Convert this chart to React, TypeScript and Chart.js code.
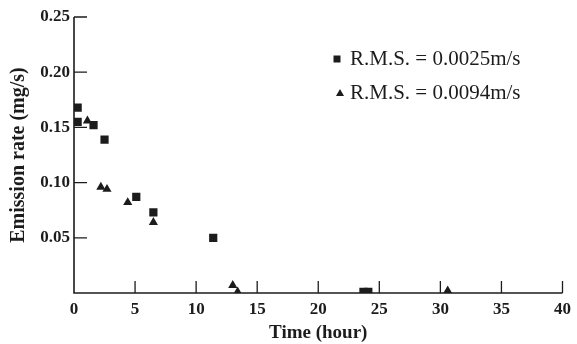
import React, { useEffect, useRef } from "react";
import { Chart, registerables } from "chart.js";

Chart.register(...registerables);

const squareX = [0.3, 0.3, 1.6, 2.5, 5.1, 6.5, 11.4, 23.7, 24.1];
const squareY = [0.168, 0.155, 0.152, 0.139, 0.087, 0.073, 0.05, 0.001, 0.001];
const triangleX = [1.1, 2.2, 2.7, 4.4, 6.5, 13.0, 13.4, 30.6];
const triangleY = [0.156, 0.096, 0.094, 0.082, 0.064, 0.007, 0.001, 0.002];
const seriesLabels = ["R.M.S. = 0.0025m/s", "R.M.S. = 0.0094m/s"];
const xTicks = [0, 5, 10, 15, 20, 25, 30, 35, 40];
const yTicks = [0, 0.05, 0.1, 0.15, 0.2, 0.25];
const yTickLabels = ["", "0.05", "0.10", "0.15", "0.20", "0.25"];
const xTitle = "Time (hour)";
const yTitle = "Emission rate (mg/s)";

const INK = "#1c1c1c";
const FONT = "'Liberation Serif', 'DejaVu Serif', serif";

export default function App() {
  const ref = useRef<HTMLCanvasElement | null>(null);

  useEffect(() => {
    document.body.style.margin = "0";
    const canvas = ref.current;
    if (!canvas) return;

    const axisPlugin = {
      id: "axisTicks",
      afterDraw(chart: any) {
        const ctx = chart.ctx;
        const xs = chart.scales.x;
        const ys = chart.scales.y;
        const area = chart.chartArea;
        ctx.save();
        ctx.strokeStyle = INK;
        ctx.lineWidth = 1.6;
        ctx.beginPath();
        ctx.moveTo(area.left, ys.getPixelForValue(0.25));
        ctx.lineTo(area.left, area.bottom);
        ctx.lineTo(xs.getPixelForValue(40), area.bottom);
        ctx.stroke();
        ctx.lineWidth = 1.3;
        ctx.beginPath();
        for (const v of yTicks) {
          if (v === 0) continue;
          const py = ys.getPixelForValue(v);
          ctx.moveTo(area.left, py);
          ctx.lineTo(area.left + 13, py);
        }
        for (const v of xTicks) {
          if (v === 0) continue;
          const px = xs.getPixelForValue(v);
          ctx.moveTo(px, area.bottom);
          ctx.lineTo(px, area.bottom - 12);
        }
        ctx.stroke();

        // legend
        const items = [
          { style: "rect", y: 59 },
          { style: "triangle", y: 93 },
        ];
        ctx.fillStyle = INK;
        items.forEach((it, i) => {
          const mx = it.style === "rect" ? 337 : 340;
          ctx.beginPath();
          if (it.style === "rect") {
            ctx.rect(mx - 3.5, it.y - 3.5, 7, 7);
          } else {
            ctx.moveTo(mx, it.y - 4);
            ctx.lineTo(mx + 4, it.y + 3);
            ctx.lineTo(mx - 4, it.y + 3);
            ctx.closePath();
          }
          ctx.fill();
          ctx.font = `21px ${FONT}`;
          ctx.textBaseline = "middle";
          ctx.textAlign = "left";
          ctx.fillText(seriesLabels[i], 350, it.y);
        });
        ctx.restore();
      },
    };

    const chart = new Chart(canvas, {
      type: "scatter",
      data: {
        datasets: [
          {
            label: seriesLabels[0],
            data: squareX.map((x, i) => ({ x, y: squareY[i] })),
            pointStyle: "rect",
            pointRadius: 5.8,
            backgroundColor: INK,
            borderColor: INK,
            borderWidth: 0,
          },
          {
            label: seriesLabels[1],
            data: triangleX.map((x, i) => ({ x, y: triangleY[i] })),
            pointStyle: "triangle",
            pointRadius: 5.3,
            backgroundColor: INK,
            borderColor: INK,
            borderWidth: 0,
          },
        ],
      },
      options: {
        responsive: false,
        animation: false,
        layout: { padding: { top: 17, right: 9, left: 0, bottom: 0 } },
        plugins: {
          legend: { display: false },
          tooltip: { enabled: false },
        },
        scales: {
          x: {
            type: "linear",
            min: 0,
            max: 40,
            afterBuildTicks: (s: any) => {
              s.ticks = xTicks.map((v) => ({ value: v }));
            },
            afterFit: (s: any) => {
              s.height = 51;
            },
            grid: { display: false, drawTicks: false },
            border: { display: false },
            ticks: {
              color: INK,
              font: { family: FONT, size: 17, weight: "bold" },
              padding: 6,
              maxRotation: 0,
              autoSkip: false,
              callback: (v: any) => String(v),
            },
            title: {
              display: true,
              text: xTitle,
              color: INK,
              font: { family: FONT, size: 19, weight: "bold" },
              padding: { top: -1, bottom: 0 },
            },
          },
          y: {
            type: "linear",
            min: 0,
            max: 0.25,
            afterBuildTicks: (s: any) => {
              s.ticks = yTicks.map((v) => ({ value: v }));
            },
            afterFit: (s: any) => {
              s.width = 74;
            },
            grid: { display: false, drawTicks: false },
            border: { display: false },
            ticks: {
              color: INK,
              font: { family: FONT, size: 17, weight: "bold" },
              padding: 4,
              autoSkip: false,
              callback: (v: any) => {
                const idx = yTicks.findIndex((t) => Math.abs(t - Number(v)) < 1e-9);
                return idx >= 0 ? yTickLabels[idx] : "";
              },
            },
            title: {
              display: true,
              text: yTitle,
              color: INK,
              font: { family: FONT, size: 20, weight: "bold" },
              padding: { top: 7, bottom: 0 },
            },
          },
        },
      },
      plugins: [axisPlugin],
    } as any);

    return () => chart.destroy();
  }, []);

  return <canvas ref={ref} width={577} height={344} style={{ display: "block" }} />;
}
